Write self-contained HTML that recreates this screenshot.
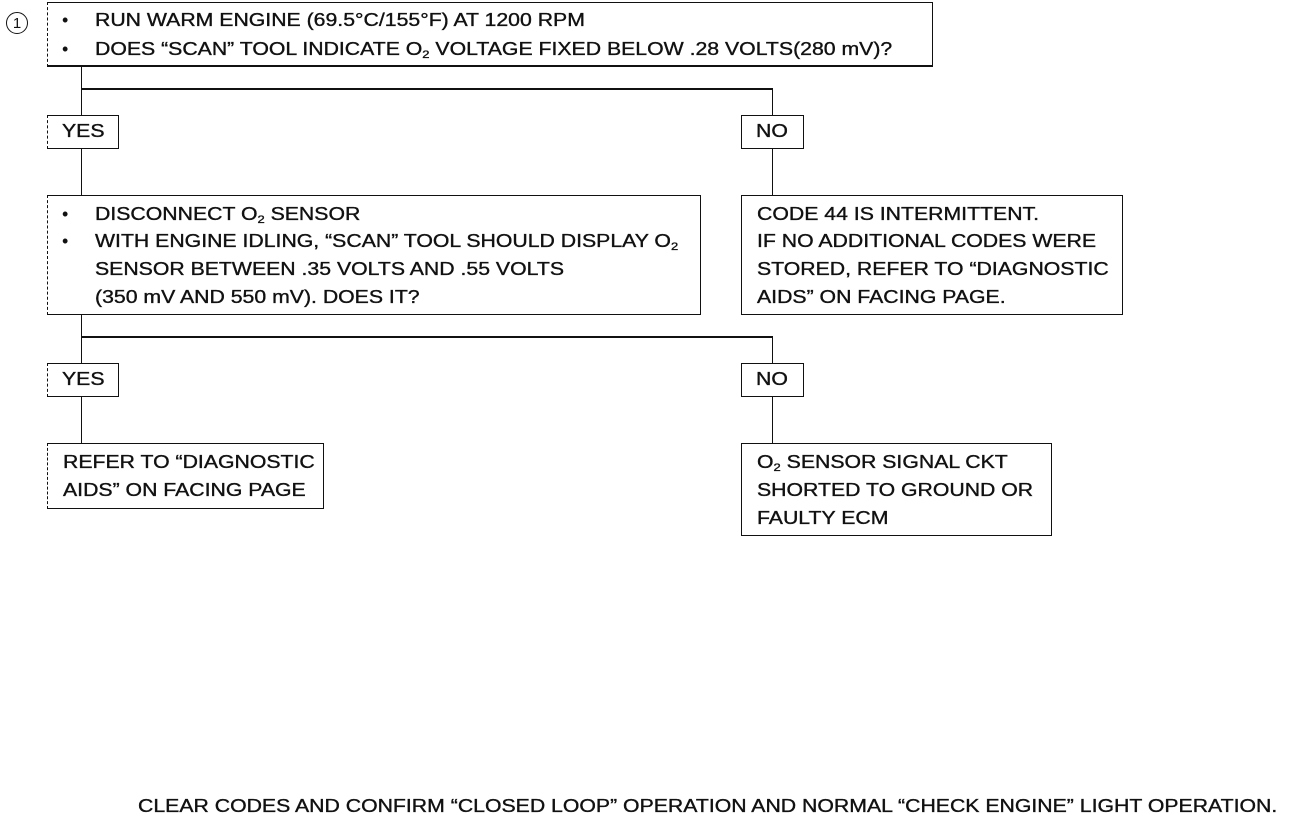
<!DOCTYPE html>
<html><head><style>
body{margin:0;width:1296px;height:816px;background:#fff;position:relative;overflow:hidden;font-family:"Liberation Sans",sans-serif;color:#111;}
.b{position:absolute;border:1.5px solid #111;border-left-style:dashed;box-sizing:border-box;}
.t{position:absolute;font-size:18px;white-space:nowrap;line-height:28px;transform:scaleX(1.18);transform-origin:0 50%;-webkit-text-stroke:0.35px #111;}
.d{position:absolute;font-size:18px;line-height:28px;}
.h{position:absolute;height:2px;background:#111;}
.v{position:absolute;width:1px;background:#111;}
sub{font-size:11px;vertical-align:-3px;line-height:0}
</style></head><body>
<div style="position:absolute;left:6px;top:12px;width:22px;height:22px;border:1.5px solid #111;border-radius:50%;font-size:15px;text-align:center;line-height:22px;box-sizing:border-box">1</div>
<div class="b" style="left:47px;top:2px;width:886px;height:65px;border-bottom-width:2px"></div>
<div class="d" style="left:62px;top:6px">•</div>
<div class="t" style="left:95px;top:6px">RUN WARM ENGINE (69.5°C/155°F) AT 1200 RPM</div>
<div class="d" style="left:62px;top:35px">•</div>
<div class="t" style="left:95px;top:35px">DOES “SCAN” TOOL INDICATE O<sub>2</sub> VOLTAGE FIXED BELOW .28 VOLTS(280 mV)?</div>

<div class="v" style="left:81px;top:67px;height:48px"></div>
<div class="h" style="left:81px;top:88px;width:692px"></div>
<div class="v" style="left:772px;top:88px;height:27px"></div>
<div class="b" style="left:47px;top:115px;width:72px;height:34px"></div>
<div class="t" style="left:62px;top:117px">YES</div>
<div class="b" style="left:741px;top:115px;width:63px;height:34px;border-left-style:solid"></div>
<div class="t" style="left:756px;top:117px">NO</div>
<div class="v" style="left:81px;top:149px;height:46px"></div>
<div class="v" style="left:772px;top:149px;height:46px"></div>

<div class="b" style="left:47px;top:195px;width:654px;height:120px"></div>
<div class="d" style="left:62px;top:200px">•</div>
<div class="t" style="left:95px;top:200px">DISCONNECT O<sub>2</sub> SENSOR</div>
<div class="d" style="left:62px;top:227px">•</div>
<div class="t" style="left:95px;top:227px">WITH ENGINE IDLING, “SCAN” TOOL SHOULD DISPLAY O<sub>2</sub></div>
<div class="t" style="left:95px;top:255px">SENSOR BETWEEN .35 VOLTS AND .55 VOLTS</div>
<div class="t" style="left:95px;top:283px">(350 mV AND 550 mV). DOES IT?</div>
<div class="b" style="left:741px;top:195px;width:382px;height:120px;border-left-style:solid"></div>
<div class="t" style="left:757px;top:200px">CODE 44 IS INTERMITTENT.</div>
<div class="t" style="left:757px;top:227px">IF NO ADDITIONAL CODES WERE</div>
<div class="t" style="left:757px;top:255px">STORED, REFER TO “DIAGNOSTIC</div>
<div class="t" style="left:757px;top:283px">AIDS” ON FACING PAGE.</div>

<div class="v" style="left:81px;top:315px;height:48px"></div>
<div class="h" style="left:81px;top:336px;width:692px"></div>
<div class="v" style="left:772px;top:336px;height:27px"></div>
<div class="b" style="left:47px;top:363px;width:72px;height:34px"></div>
<div class="t" style="left:62px;top:365px">YES</div>
<div class="b" style="left:741px;top:363px;width:63px;height:34px;border-left-style:solid"></div>
<div class="t" style="left:756px;top:365px">NO</div>
<div class="v" style="left:81px;top:397px;height:46px"></div>
<div class="v" style="left:772px;top:397px;height:46px"></div>

<div class="b" style="left:47px;top:443px;width:277px;height:66px"></div>
<div class="t" style="left:63px;top:448px">REFER TO “DIAGNOSTIC</div>
<div class="t" style="left:63px;top:476px">AIDS” ON FACING PAGE</div>
<div class="b" style="left:741px;top:443px;width:311px;height:93px;border-left-style:solid"></div>
<div class="t" style="left:757px;top:448px">O<sub>2</sub> SENSOR SIGNAL CKT</div>
<div class="t" style="left:757px;top:476px">SHORTED TO GROUND OR</div>
<div class="t" style="left:757px;top:504px">FAULTY ECM</div>

<div class="t" style="left:138px;top:792px">CLEAR CODES AND CONFIRM “CLOSED LOOP” OPERATION AND NORMAL “CHECK ENGINE” LIGHT OPERATION.</div>
</body></html>
